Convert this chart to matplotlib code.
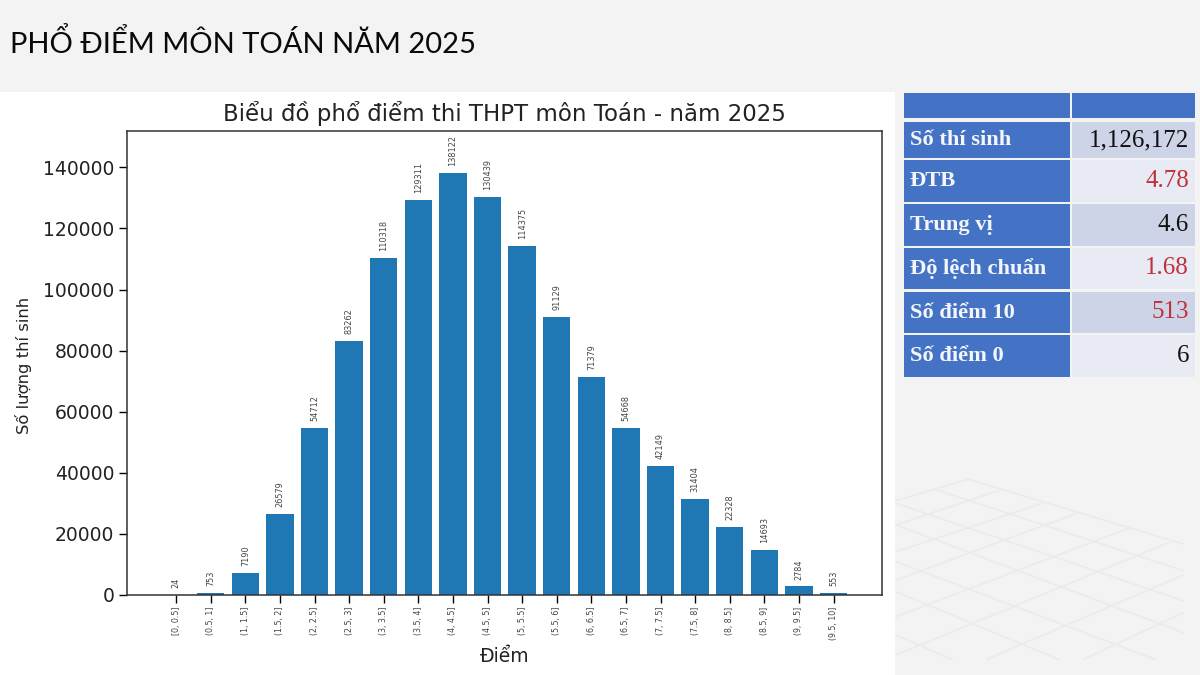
import matplotlib
matplotlib.use("Agg")
import matplotlib.pyplot as plt
from matplotlib.patches import Rectangle

# Data
bins = ["[0, 0.5]", "(0.5, 1]", "(1, 1.5]", "(1.5, 2]", "(2, 2.5]", "(2.5, 3]", "(3, 3.5]",
        "(3.5, 4]", "(4, 4.5]", "(4.5, 5]", "(5, 5.5]", "(5.5, 6]", "(6, 6.5]", "(6.5, 7]",
        "(7, 7.5]", "(7.5, 8]", "(8, 8.5]", "(8.5, 9]", "(9, 9.5]", "(9.5, 10]"]
counts = [24, 753, 7190, 26579, 54712, 83262, 110318, 129311, 138122, 130439,
          114375, 91129, 71379, 54668, 42149, 31404, 22328, 14693, 2784, 553]
stat_names = ["Số thí sinh", "ĐTB", "Trung vị", "Độ lệch chuẩn", "Số điểm 10", "Số điểm 0"]
stat_values = ["1,126,172", "4.78", "4.6", "1.68", "513", "6"]
stat_colors = ["#111111", "#c0303a", "#111111", "#c0303a", "#c0303a", "#111111"]

W, H = 1200, 675
fig = plt.figure(figsize=(12, 6.75), dpi=100, facecolor="#f3f3f3")

# Page layer in pixel coordinates
bg = fig.add_axes([0, 0, 1, 1], zorder=0)
bg.set_xlim(0, W); bg.set_ylim(H, 0); bg.axis("off")
bg.add_patch(Rectangle((0, 92), 895, 583, fc="white", ec="none"))

# Decorative perspective grid (crop coordinates scaled by 1/3)
grid_segs = [((235, 28), (880, 222)), ((140, 60), (880, 302)), ((18, 100), (880, 392)),
             ((18, 165), (880, 488)), ((18, 275), (795, 568)), ((18, 365), (505, 568)),
             ((18, 495), (185, 568)), ((18, 92), (235, 28)), ((18, 165), (330, 60)),
             ((18, 245), (455, 100)), ((18, 330), (560, 130)), ((18, 440), (715, 175)),
             ((18, 555), (835, 218)), ((290, 568), (880, 315)), ((580, 568), (880, 428))]
for (x0, y0), (x1, y1) in grid_segs:
    bg.plot([890 + x0 / 3, 890 + x1 / 3], [470 + y0 / 3, 470 + y1 / 3],
            color="#ebebeb", lw=1.2, solid_capstyle="round")

bg.text(10, 43, "PHỔ ĐIỂM MÔN TOÁN NĂM 2025", fontsize=21, family="Lato",
        color="#0a0a0a", va="center", ha="left")

# Main chart
ax = fig.add_axes([127 / W, 1 - 595 / H, (882 - 127) / W, (595 - 131) / H], zorder=2)
x = list(range(len(bins)))
bars = ax.bar(x, counts, width=0.79, color="#1f77b4")
ax.set_xlim(-1.42, 20.4)
ax.set_ylim(0, 151900)
ax.set_xticks(x)
ax.set_xticklabels(bins, rotation=90, fontsize=5.7, color="#444444")
ax.tick_params(axis="x", length=5.5, width=1.0, pad=3)
ax.tick_params(axis="y", labelsize=13.5, length=5.5, width=1.0, labelcolor="#222222")
ax.set_yticks(range(0, 140001, 20000))
for s in ax.spines.values():
    s.set_linewidth(1.1)
    s.set_color("#333333")
ax.bar_label(bars, labels=[str(c) for c in counts], rotation=90, fontsize=5.9,
             padding=5, color="#444444")
ax.set_title("Biểu đồ phổ điểm thi THPT môn Toán - năm 2025", fontsize=16.5,
             color="#222222", pad=7)
ax.set_xlabel("Điểm", fontsize=13.5, color="#222222")
ax.xaxis.set_label_coords((505 - 127) / 755, -(647 - 595) / 464, transform=ax.transAxes)
ax.set_ylabel("Số lượng thí sinh", fontsize=11.8, color="#222222")
ax.yaxis.set_label_coords((32 - 127) / 755, (595 - 365) / 464, transform=ax.transAxes)

# Statistics table
tb = fig.add_axes([0, 0, 1, 1], zorder=3)
tb.set_xlim(0, W); tb.set_ylim(H, 0); tb.axis("off"); tb.patch.set_alpha(0)
BLUE = "#4472c4"
tb.add_patch(Rectangle((904, 93), 166, 25, fc=BLUE, ec="none"))
tb.add_patch(Rectangle((1072, 93), 123, 25, fc=BLUE, ec="none"))
rows = [(122, 158), (160, 202), (204, 246), (248, 289), (292, 333), (335, 377)]
fills = ["#cdd4e8", "#e8ebf4", "#cdd4e8", "#e8ebf4", "#cdd4e8", "#e8ebf4"]
for (y0, y1), name, val, col, fc in zip(rows, stat_names, stat_values, stat_colors, fills):
    tb.add_patch(Rectangle((904, y0), 166, y1 - y0, fc=BLUE, ec="none"))
    tb.add_patch(Rectangle((1072, y0), 123, y1 - y0, fc=fc, ec="none"))
    tb.text(910, (y0 + y1) / 2, name, family="Liberation Serif", weight="bold",
            fontsize=16.2, color="#f4f6fb", va="center", ha="left")
    tb.text(1189, (y0 + y1) / 2, val, family="Liberation Serif", fontsize=18,
            color=col, va="center", ha="right")

fig.savefig("out.png", dpi=100, facecolor=fig.get_facecolor())
